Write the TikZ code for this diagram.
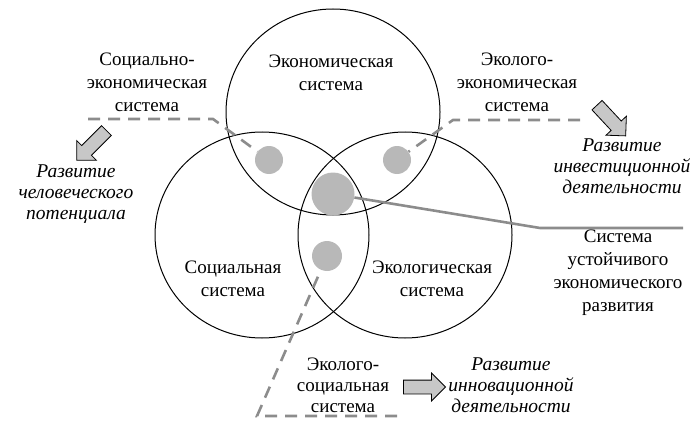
\documentclass[tikz,border=0pt]{standalone}
\usepackage{fontspec}
\setmainfont{Liberation Serif}
\usetikzlibrary{calc,shapes.arrows}

\definecolor{linkgray}{gray}{0.55}
\definecolor{dotgray}{gray}{0.72}
\definecolor{arrowgray}{gray}{0.78}

\begin{document}
\begin{tikzpicture}[x=1pt,y=-1pt,
    txt/.style={align=center,inner sep=0pt,font=\fontsize{19}{23}\selectfont},
    goal/.style={align=center,inner sep=0pt,font=\fontsize{19.5}{21}\selectfont\itshape},
    dot/.style={circle,fill=dotgray,inner sep=0pt},
    link/.style={draw=linkgray,line width=2.6pt,dash pattern=on 12pt off 8pt},
    trunk/.style={draw=linkgray,line width=2.6pt},
    blockarrow/.style={single arrow,draw,fill=arrowgray,line width=0.8pt,
      inner sep=6.5pt,minimum height=42pt,single arrow head extend=7pt}]

      \useasboundingbox (0,0) rectangle (698,425);

      \def \rx{107}
      \def \ry{103}

      % Draw the three systems
      \draw[line width=1pt] (333,112) ellipse [x radius=\rx, y radius=\ry];
      \draw[line width=1pt] (262,235) ellipse [x radius=\rx, y radius=\ry];
      \draw[line width=1pt] (405,235) ellipse [x radius=\rx, y radius=\ry];

      % intersections
      \node[dot, minimum size=28pt] (se) at (269,160) {};
      \node[dot, minimum size=28pt] (ee) at (397,160) {};
      \node[dot, minimum size=30pt] (es) at (327,256) {};
      \node[dot, minimum size=43pt] (core) at (333,194) {};

      \coordinate (se-end) at (88,119);
      \coordinate (se-bend) at (213,119);
      \coordinate (ee-bend) at (453,120);
      \coordinate (ee-end) at (580,120);
      \coordinate (es-bend) at (257,416);
      \coordinate (es-end) at (397,416);
      \coordinate (kink) at (540,228);
      \coordinate (tail) at (683,228);

      \draw[link] (se-end) -- (se-bend) -- (se);
      \draw[link] (ee-end) -- (ee-bend) -- (ee);
      \draw[link] (es-end) -- (es-bend) -- (es);
      \draw[trunk] (tail) -- (kink) -- (core);

      \node[txt] (econ) at (331,73) {Экономическая\\система};
      \node[txt] (social) at (233,279) {Социальная\\система};
      \node[txt] (ecol) at (432,279) {Экологическая\\система};
      \node[txt] (socecon) at (147,82) {Социально-\\экономическая\\система};
      \node[txt] (ecoecon) at (517,82) {Эколого-\\экономическая\\система};
      \node[txt,font=\fontsize{19}{21}\selectfont] (ecosoc) at (343,385) {Эколого-\\социальная\\система};
      \node[txt] (sust) at (618,273) {Система\\устойчивого\\экономического\\развития};

      \node[goal] (human) at (76,194) {Развитие\\человеческого\\потенциала};
      \node[goal] (invest) at (622,166) {Развитие\\инвестиционной\\деятельности};
      \node[goal] (innov) at (511,385) {Развитие\\инновационной\\деятельности};

      % block arrows
      \node[blockarrow, rotate=-135] (toHuman) at (94,143) {};
      \node[blockarrow, rotate=-47] (toInvest) at (609,118) {};
      \node[blockarrow] (toInnov) at (421,387) {};

\end{tikzpicture}
\end{document}
